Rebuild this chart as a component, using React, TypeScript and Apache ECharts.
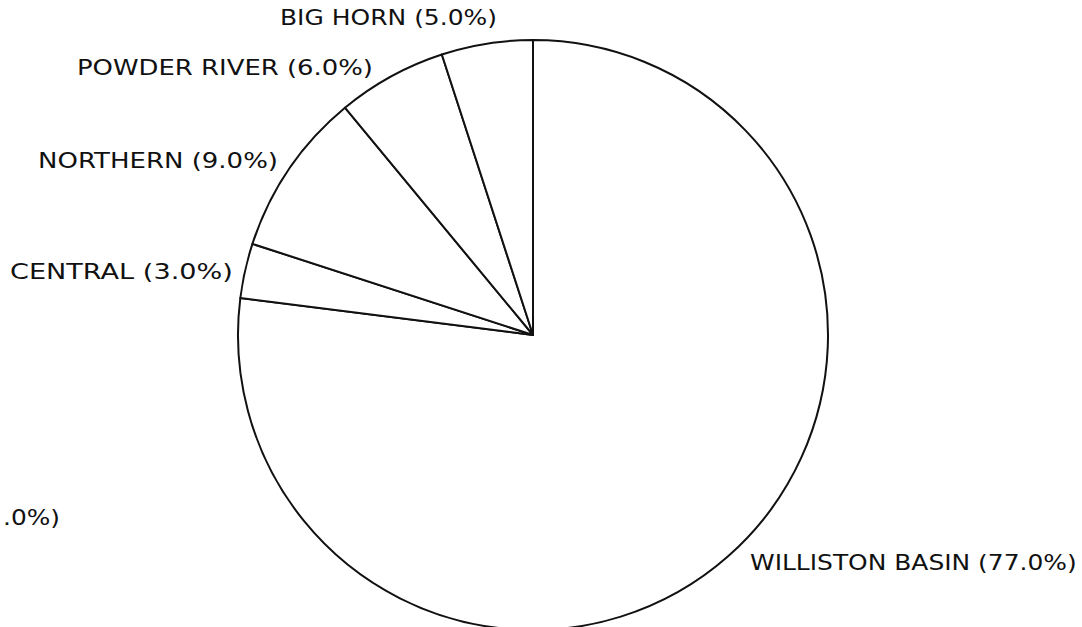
import React, { useEffect, useRef } from "react";
import * as echarts from "echarts";

const regions = ["WILLISTON BASIN", "CENTRAL", "NORTHERN", "POWDER RIVER", "BIG HORN"];
const shares = [77.0, 3.0, 9.0, 6.0, 5.0];
const strayLabel = ".0%)";

// label boxes: [left, right, centerY] in px, same order as regions
const labelBoxes: number[][] = [
  [750, 1077, 563],
  [10, 233, 272],
  [38, 278, 161],
  [77, 373, 68],
  [280, 497, 18],
];
const strayBox = [3, 60, 518];

const FONT_SIZE = 21;
const FONT_FAMILY = "DejaVu Sans";

function measure(text: string): number {
  const c = document.createElement("canvas");
  const ctx = c.getContext("2d");
  if (!ctx) return text.length * FONT_SIZE * 0.6;
  ctx.font = `${FONT_SIZE}px "${FONT_FAMILY}"`;
  return ctx.measureText(text).width;
}

function makeText(text: string, box: number[]) {
  const w = measure(text);
  const sx = (box[1] - box[0]) / w;
  return {
    type: "text",
    x: box[0],
    y: box[2],
    scaleX: sx,
    silent: true,
    style: {
      text,
      x: 0,
      y: 0,
      fill: "#111",
      font: `normal ${FONT_SIZE}px "${FONT_FAMILY}"`,
      textAlign: "left",
      textVerticalAlign: "middle",
    },
  };
}

export default function App() {
  const ref = useRef<HTMLDivElement>(null);
  useEffect(() => {
    document.body.style.margin = "0";
    if (!ref.current) return;
    const chart = echarts.init(ref.current, null, { renderer: "svg" });
    const labels = regions.map((r, i) => `${r} (${shares[i].toFixed(1)}%)`);
    const graphics: any[] = labels.map((t, i) => makeText(t, labelBoxes[i]));
    graphics.push(makeText(strayLabel, strayBox));
    chart.setOption({
      animation: false,
      backgroundColor: "#fff",
      series: [
        {
          type: "pie",
          center: [533, 335],
          radius: [0, 295],
          startAngle: 90,
          clockwise: true,
          silent: true,
          label: { show: false },
          labelLine: { show: false },
          itemStyle: { color: "#fff", borderColor: "#111", borderWidth: 2 },
          emphasis: { disabled: true },
          data: regions.map((r, i) => ({ name: r, value: shares[i] })),
        },
      ],
      graphic: graphics,
    });
    return () => chart.dispose();
  }, []);
  return (
    <div
      ref={ref}
      style={{ position: "fixed", left: 0, top: 0, width: 1082, height: 627 }}
    />
  );
}
